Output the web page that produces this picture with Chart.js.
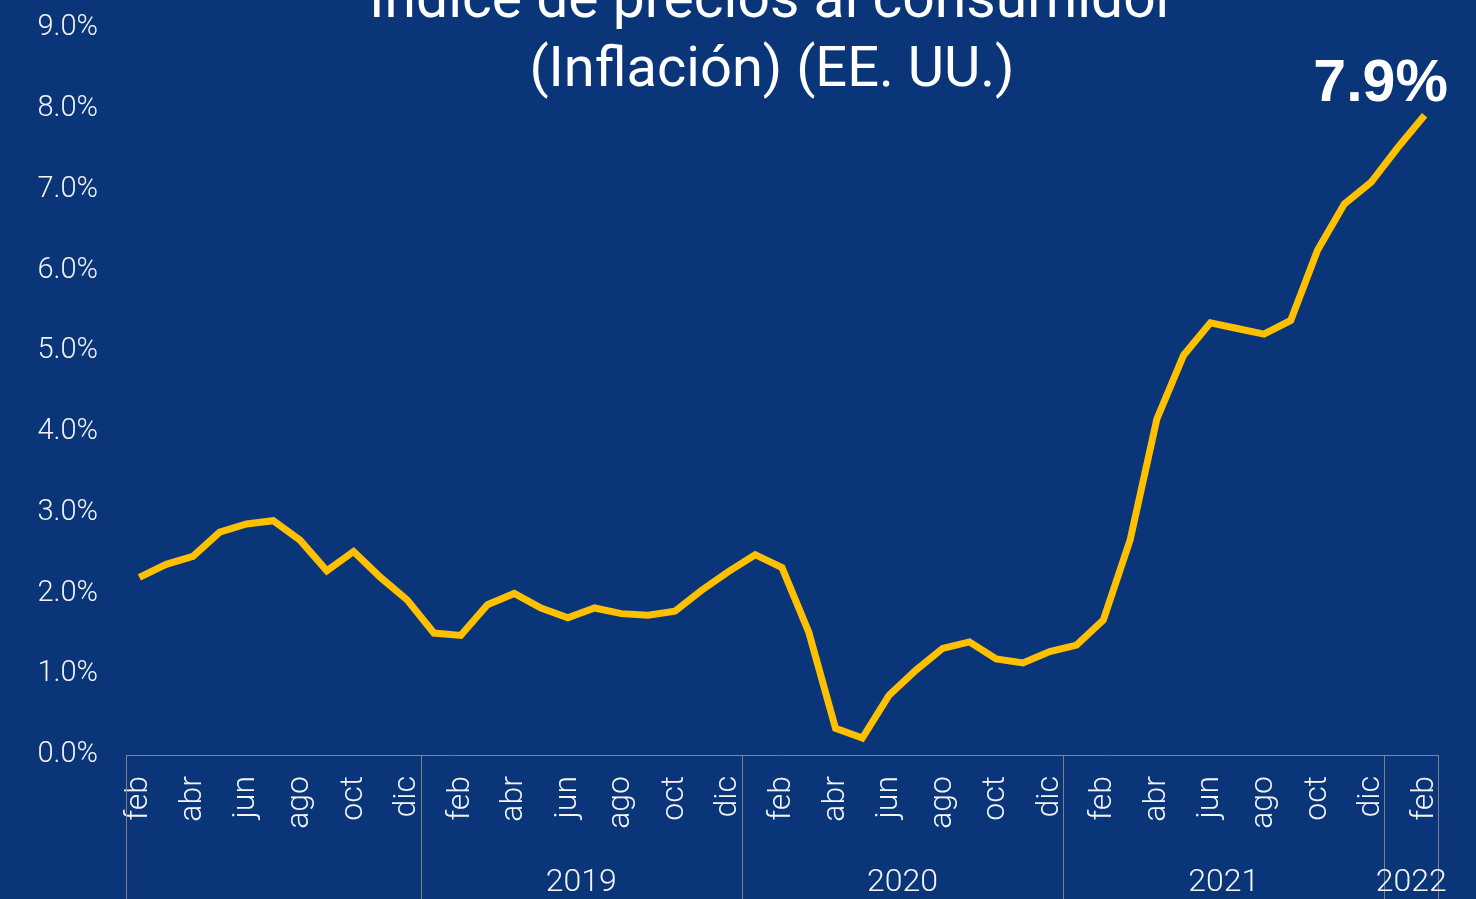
<!DOCTYPE html>
<html>
<head>
<meta charset="utf-8">
<script src="https://cdn.jsdelivr.net/npm/chart.js@4/dist/chart.umd.min.js"></script>
<style>
  html, body { margin: 0; padding: 0; background: #0a3679; overflow: hidden; }
  #wrap { width: 1476px; height: 899px; position: relative; }
</style>
</head>
<body>
<div id="wrap"><canvas id="cpi"></canvas></div>
<script>
// months feb 2018 .. feb 2022
const monthNames = ['feb','mar','abr','may','jun','jul','ago','sep','oct','nov','dic',
  'ene','feb','mar','abr','may','jun','jul','ago','sep','oct','nov','dic',
  'ene','feb','mar','abr','may','jun','jul','ago','sep','oct','nov','dic',
  'ene','feb','mar','abr','may','jun','jul','ago','sep','oct','nov','dic',
  'ene','feb'];
const inflation = [2.2, 2.36, 2.46, 2.76, 2.86, 2.9, 2.66, 2.28, 2.52, 2.2, 1.92,
  1.51, 1.48, 1.86, 2.0, 1.82, 1.7, 1.82, 1.75, 1.73, 1.78, 2.04, 2.27,
  2.48, 2.32, 1.52, 0.33, 0.21, 0.74, 1.05, 1.32, 1.4, 1.19, 1.14, 1.28,
  1.36, 1.67, 2.66, 4.16, 4.95, 5.35, 5.28, 5.21, 5.38, 6.25, 6.82, 7.09,
  7.52, 7.92];
// year groups: label and number of months in each
const yearLabels = ['', '2019', '2020', '2021', '2022'];
const yearSizes = [11, 12, 12, 12, 2];
const titleLines = ['Índice de precios al consumidor', '(Inflación) (EE. UU.)'];
const lastLabel = '7.9%';

const BG = '#0a3679';
const LINE = '#ffc000';
const FRAME = '#808080';
const TXT = '#f4f4f4';

const bgPlugin = {
  id: 'bg',
  beforeDraw(chart) {
    const c = chart.ctx;
    c.save();
    c.fillStyle = BG;
    c.fillRect(0, 0, chart.width, chart.height);
    c.restore();
  }
};

// year grouping under the month axis
const yearAxisPlugin = {
  id: 'yearAxis',
  afterDraw(chart) {
    const c = chart.ctx;
    const x = chart.scales.x;
    const top = chart.chartArea.bottom;
    const bottom = chart.height;
    c.save();
    c.strokeStyle = FRAME;
    c.lineWidth = 1;
    c.fillStyle = TXT;
    c.font = '300 32px Roboto';
    c.textAlign = 'center';
    c.textBaseline = 'alphabetic';
    let start = 0;
    const half = (x.getPixelForValue(1) - x.getPixelForValue(0)) / 2;
    yearSizes.forEach((n, i) => {
      const x0 = x.getPixelForValue(start) - half;
      const x1 = x.getPixelForValue(start + n - 1) + half;
      c.beginPath();
      c.moveTo(Math.round(x0) + 0.5, top);
      c.lineTo(Math.round(x0) + 0.5, bottom);
      c.stroke();
      if (i === yearSizes.length - 1) {
        c.beginPath();
        c.moveTo(Math.round(x1) + 0.5, top);
        c.lineTo(Math.round(x1) + 0.5, bottom);
        c.stroke();
      }
      c.fillText(yearLabels[i], (x0 + x1) / 2, 891);
      start += n;
    });
    c.restore();
  }
};

const textPlugin = {
  id: 'texts',
  afterDraw(chart) {
    const c = chart.ctx;
    c.save();
    c.fillStyle = '#ffffff';
    c.textAlign = 'center';
    c.textBaseline = 'alphabetic';
    c.font = '400 57px Roboto';
    c.fillText(titleLines[0], 772, 17);
    c.font = '400 56px Roboto';
    c.fillText(titleLines[1], 772, 86);
    // value label on the last point
    const i = inflation.length - 1;
    const px = chart.scales.x.getPixelForValue(i);
    const py = chart.scales.y.getPixelForValue(inflation[i]);
    c.font = 'bold 59px "Liberation Sans"';
    c.fillText(lastLabel, px - 44, py - 14);
    c.restore();
  }
};

new Chart(document.getElementById('cpi'), {
  type: 'line',
  data: {
    labels: monthNames,
    datasets: [{
      data: inflation,
      borderColor: LINE,
      borderWidth: 7,
      pointRadius: 0,
      tension: 0,
      fill: false
    }]
  },
  options: {
    responsive: true,
    maintainAspectRatio: false,
    animation: false,
    layout: { padding: { top: 28, right: 38, left: 0, bottom: 0 } },
    plugins: {
      legend: { display: false },
      tooltip: { enabled: false }
    },
    scales: {
      x: {
        type: 'category',
        offset: true,
        afterFit: (s) => { s.height = 144; s.paddingLeft = 0; s.paddingRight = 0; },
        grid: { display: true, drawOnChartArea: false, drawTicks: false },
        border: { display: true, color: FRAME, width: 1 },
        ticks: {
          autoSkip: false,
          maxRotation: 90,
          minRotation: 90,
          padding: 21,
          color: TXT,
          font: { family: 'Roboto', size: 32, weight: '300' },
          callback: (v, i) => (i % 2 === 0 ? monthNames[i] : '')
        }
      },
      y: {
        min: 0,
        max: 9,
        afterFit: (s) => { s.width = 126; s.paddingTop = 0; s.paddingBottom = 0; },
        grid: { display: false },
        border: { display: false },
        ticks: {
          stepSize: 1,
          padding: 20,
          color: TXT,
          font: { family: 'Roboto', size: 29, weight: '300' },
          callback: (v) => v.toFixed(1) + '%'
        }
      }
    }
  },
  plugins: [bgPlugin, yearAxisPlugin, textPlugin]
});
</script>
</body>
</html>
